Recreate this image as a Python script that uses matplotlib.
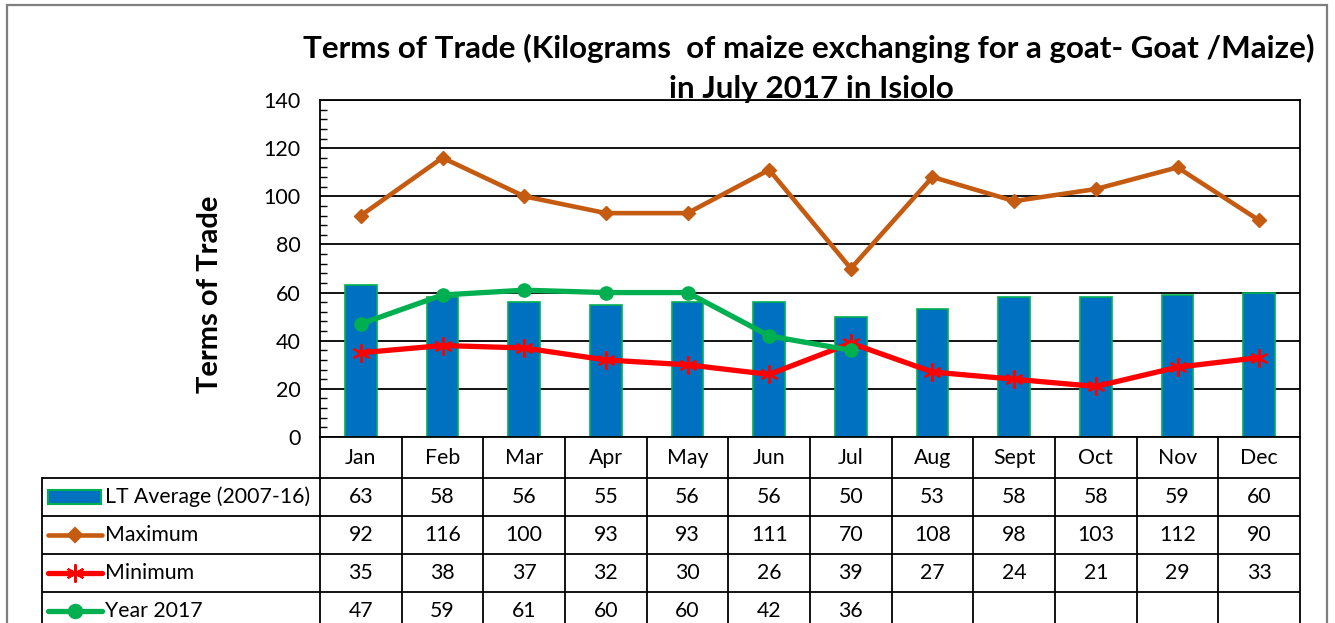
import matplotlib
matplotlib.use("Agg")
import matplotlib.pyplot as plt
from matplotlib.patches import Rectangle
from matplotlib.ticker import MultipleLocator

months = ["Jan", "Feb", "Mar", "Apr", "May", "Jun", "Jul", "Aug", "Sept", "Oct", "Nov", "Dec"]
lt_average = [63, 58, 56, 55, 56, 56, 50, 53, 58, 58, 59, 60]
maximum = [92, 116, 100, 93, 93, 111, 70, 108, 98, 103, 112, 90]
minimum = [35, 38, 37, 32, 30, 26, 39, 27, 24, 21, 29, 33]
year_2017 = [47, 59, 61, 60, 60, 42, 36]

series_names = ["LT Average (2007-16)", "Maximum", "Minimum", "Year 2017"]

BLUE = "#0070C0"
GREEN = "#00B050"
ORANGE = "#C55A11"
RED = "#FF0000"
STAR = (6, 2, 0)

plt.rcParams["font.family"] = ["Lato", "DejaVu Sans"]

W, H = 1335, 623
fig = plt.figure(figsize=(W / 100, H / 100), dpi=100)

# grey chart border
fig.add_artist(Rectangle((7 / W, -0.05), 1320 / W, 1 - 5 / H + 0.05,
                         transform=fig.transFigure, fill=False,
                         edgecolor="#7f7f7f", linewidth=1.6))

left, right, top, bottom = 320, 1300, 100, 437
ax = fig.add_axes([left / W, 1 - bottom / H, (right - left) / W, (bottom - top) / H])

x = [i + 0.5 for i in range(len(months))]
ax.bar(x, lt_average, width=0.39, color=BLUE, edgecolor=GREEN, linewidth=1.2, zorder=2)
ax.plot(x, maximum, color=ORANGE, linewidth=3.3, marker="D", markersize=7.5, zorder=3)
ax.plot(x, minimum, color=RED, linewidth=3.8, marker=STAR, markersize=13,
        markeredgewidth=1.6, zorder=3)
ax.plot(x[:len(year_2017)], year_2017, color=GREEN, linewidth=3.8, marker="o",
        markersize=9.5, zorder=3)

ax.set_xlim(0, 12)
ax.set_ylim(0, 140)
ax.yaxis.set_major_locator(MultipleLocator(20))
ax.yaxis.set_minor_locator(MultipleLocator(4))
ax.grid(axis="y", color="black", linewidth=1.3, zorder=0)
ax.set_axisbelow(True)
ax.set_xticks([])
ax.tick_params(axis="y", which="major", length=0, labelsize=15.5, pad=14)
ax.tick_params(axis="y", which="minor", direction="in", length=5, width=1)
for s in ax.spines.values():
    s.set_linewidth(1.3)
ax.set_ylabel("Terms of Trade", fontsize=21, fontweight="bold")
ax.yaxis.set_label_coords((223 - left) / (right - left), (bottom - 294) / (bottom - top))

fig.text(809 / W, 1 - 48 / H, "Terms of Trade (Kilograms  of maize exchanging for a goat- Goat /Maize)",
         ha="center", va="center", fontsize=22.6, fontweight="bold")
fig.text(811 / W, 1 - 89 / H, "in July 2017 in Isiolo",
         ha="center", va="center", fontsize=22.6, fontweight="bold")

# data table below the plot
colw = (right - left) / 12
tleft = 42
tax = fig.add_axes([tleft / W, 0, (right - tleft) / W, (H - bottom) / H])
tax.set_xlim((tleft - left) / colw, 12)
tax.set_ylim(H - bottom, 0)
tax.axis("off")
x0 = (tleft - left) / colw

row_edges = [0, 41, 79, 117, 155, 193]
lw = 1.3
for i in range(13):
    tax.plot([i, i], [0, 200], color="black", linewidth=lw, clip_on=False)
tax.plot([x0, x0], [41, 200], color="black", linewidth=lw, clip_on=False)
for y in row_edges[1:5]:
    tax.plot([x0, 12], [y, y], color="black", linewidth=lw)

for i, m in enumerate(months):
    tax.text(i + 0.5, 21, m, ha="center", va="center", fontsize=15.3)

rows = [lt_average, maximum, minimum, year_2017]
for r, vals in enumerate(rows):
    yc = (row_edges[r + 1] + row_edges[r + 2]) / 2
    for i, v in enumerate(vals):
        tax.text(i + 0.5, yc, str(v), ha="center", va="center", fontsize=15.3)
    tax.text((105 - left) / colw, yc, series_names[r], ha="left", va="center", fontsize=15.3)

def px(p):
    return (p - left) / colw

# legend keys
y1 = (row_edges[1] + row_edges[2]) / 2
tax.add_patch(Rectangle((px(48), y1 - 7), px(101) - px(48), 14,
                        facecolor=BLUE, edgecolor=GREEN, linewidth=1.5))
key_styles = [(ORANGE, "D", 7.5, 3.3), (RED, STAR, 13, 3.8), (GREEN, "o", 9.5, 3.8)]
for k, (c, mk, ms, lwid) in enumerate(key_styles):
    yc = (row_edges[k + 2] + row_edges[k + 3]) / 2
    tax.plot([px(48), px(102)], [yc, yc], color=c, linewidth=lwid,
             solid_capstyle="round")
    tax.plot([px(75)], [yc], color=c, marker=mk, markersize=ms, markeredgewidth=1.6)

fig.savefig("out.png", dpi=100)
